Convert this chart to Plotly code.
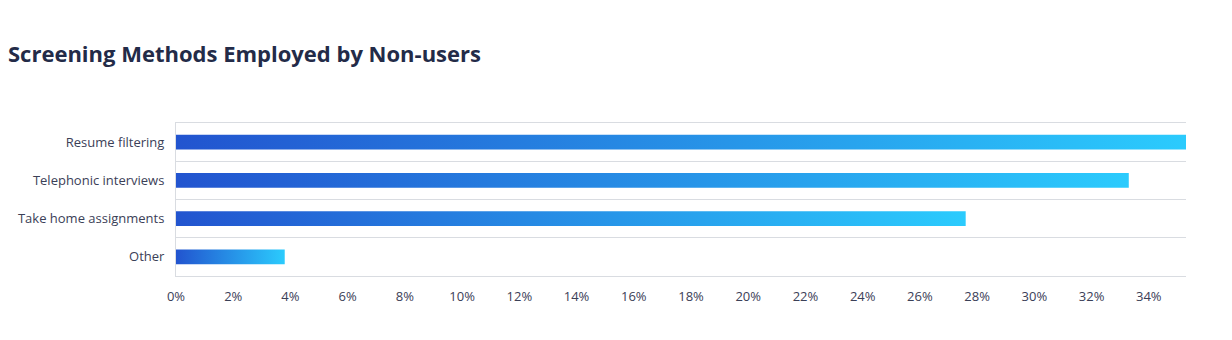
import plotly.graph_objects as go

# Screening methods and share of non-users employing each (%)
methods = ["Resume filtering", "Telephonic interviews", "Take home assignments", "Other"]
shares = [35.3, 33.3, 27.6, 3.8]
tick_values = list(range(0, 36, 2))
tick_labels = [f"{v}%" for v in tick_values]

grad_start = "#2254CF"
grad_end = "#2BCBFD"
half_bar = 0.195

fig = go.Figure()
for i, (name, val) in enumerate(zip(methods, shares)):
    fig.add_trace(go.Scatter(
        x=[0, val, val, 0, 0],
        y=[i - half_bar, i - half_bar, i + half_bar, i + half_bar, i - half_bar],
        mode="lines",
        line=dict(width=0),
        fill="toself",
        fillgradient=dict(type="horizontal", start=0, stop=val,
                          colorscale=[[0, grad_start], [1, grad_end]]),
        name=name,
        hoveron="fills",
        hoverinfo="text",
        text=f"{name}: {val}%",
        showlegend=False,
    ))

fig.update_layout(
    width=1232, height=340,
    margin=dict(l=176, r=46, t=123, b=64),
    paper_bgcolor="white", plot_bgcolor="white",
    font=dict(family="Open Sans, sans-serif", size=13, color="#3B4057"),
    title=dict(text="<b>Screening Methods Employed by Non-users</b>",
               x=0.0065, xanchor="left", y=0.84, yanchor="middle",
               font=dict(family="Open Sans, sans-serif", size=22, color="#232B48")),
)
fig.update_xaxes(
    range=[0, 35.3], tickvals=tick_values, ticktext=tick_labels,
    showgrid=False, zeroline=False,
    showline=True, linecolor="#D9DCE1", linewidth=1, mirror=True,
    ticks="outside", ticklen=8, tickcolor="rgba(0,0,0,0)",
    fixedrange=True,
)
fig.update_yaxes(
    range=[3.5, -0.5], tickvals=list(range(len(methods))), ticktext=methods,
    showgrid=False, zeroline=False,
    showline=True, linecolor="#D9DCE1", linewidth=1,
    ticks="outside", ticklen=8, tickcolor="rgba(0,0,0,0)",
    minor=dict(tick0=0.5, dtick=1, showgrid=True, gridcolor="#D9DCE1", gridwidth=1),
    fixedrange=True,
)

fig.write_html("out.html")
